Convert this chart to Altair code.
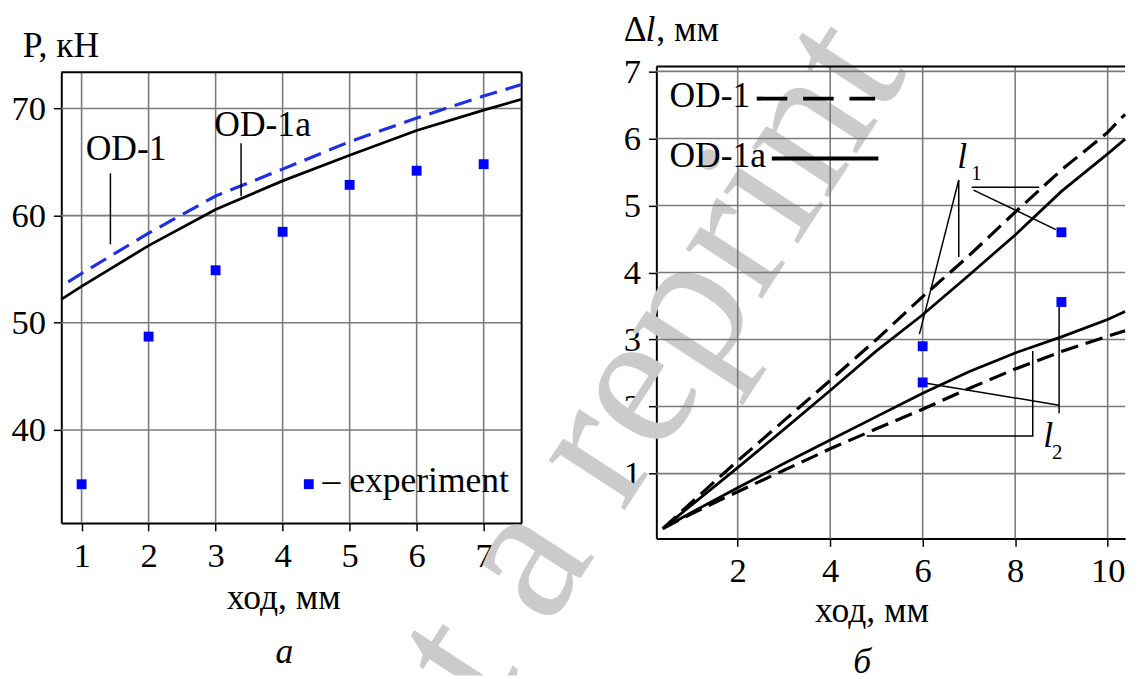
import altair as alt
import pandas as pd

# ---------------- data: panel "а" (P vs stroke) ----------------
a_x_ticks = [1, 2, 3, 4, 5, 6, 7]
a_y_ticks = [40, 50, 60, 70]
a_od1_x = [0.80, 1, 2, 3, 4, 5, 6, 7, 7.567]
a_od1_y = [53.82, 54.6, 58.36, 61.83, 64.34, 66.9, 69.1, 71.16, 72.24]
a_od1a_x = [0.697, 1, 2, 3, 4, 5, 6, 7, 7.567]
a_od1a_y = [52.19, 53.4, 57.2, 60.57, 63.24, 65.63, 67.94, 69.84, 70.86]
a_exp_x = [1, 2, 3, 4, 5, 6, 7]
a_exp_y = [34.93, 48.71, 54.9, 58.49, 62.87, 64.19, 64.8]
a_lead_seg = ["OD-1", "OD-1", "OD-1a", "OD-1a"]
a_lead_x = [1.43, 1.43, 3.38, 3.38]
a_lead_y = [63.95, 57.32, 66.76, 61.8]

# ---------------- data: panel "б" (Δl vs stroke) ----------------
b_x_ticks = [2, 4, 6, 8, 10]
b_y_ticks = [1, 2, 3, 4, 5, 6, 7]
b_x = [0.38, 1, 2, 3, 4, 5, 6, 7, 8, 9, 10, 10.377]
b_l1_od1 = [0.18, 0.57, 1.19, 1.79, 2.39, 3.00, 3.64, 4.25, 4.90, 5.53, 6.09, 6.36]
b_l1_od1a = [0.18, 0.53, 1.09, 1.66, 2.24, 2.83, 3.37, 3.96, 4.56, 5.21, 5.77, 5.99]
b_l2_od1 = [0.18, 0.40, 0.73, 1.05, 1.37, 1.67, 1.96, 2.27, 2.56, 2.82, 3.05, 3.13]
b_l2_od1a = [0.18, 0.42, 0.79, 1.15, 1.50, 1.85, 2.20, 2.52, 2.80, 3.04, 3.30, 3.42]
b_exp_x = [6, 6, 9, 9]
b_exp_y = [2.90, 2.36, 4.60, 3.56]
b_lead_seg = ["a", "a", "b", "b", "c", "c", "d", "d", "e", "e", "f", "f", "g", "g", "g"]
b_lead_x = [6.78, 5.93, 6.78, 6.78, 7.06, 8.52, 7.10, 8.88, 5.98, 8.95, 8.95, 8.95, 4.79, 8.38, 8.38]
b_lead_y = [5.38, 3.08, 5.38, 4.23, 5.27, 5.27, 5.23, 4.64, 2.36, 2.02, 3.49, 1.90, 1.56, 1.56, 2.83]

# ---------------- layout / style ----------------
W, H = 1132, 671
FONT = "Liberation Serif, Times New Roman, Times, DejaVu Serif, serif"
GRID = "#7a7a7a"
BLUE_LINE = "#1f2fe6"
BLUE_PT = "#0000ff"
TXT = 36

A_XD, A_YD = [0.697, 7.567], [31.32, 73.37]
B_XD, B_YD = [0.241, 10.377], [0.033, 7.074]
XA = alt.Scale(domain=A_XD, range=[54, 520.5], nice=False, zero=False)
YA = alt.Scale(domain=A_YD, range=[516.3, 59.7], nice=False, zero=False)
XB = alt.Scale(domain=B_XD, range=[657, 1132], nice=False, zero=False)
YB = alt.Scale(domain=B_YD, range=[532, 53.7], nice=False, zero=False)


def axis(orient, values, offset, **kw):
    return alt.Axis(orient=orient, values=values, offset=offset, grid=False,
                    tickSize=8, tickWidth=1.5, tickColor="black",
                    domainColor="black", domainWidth=2,
                    labelFont=FONT, labelFontSize=35, labelColor="black",
                    labelPadding=8, labelFlush=False, labelOverlap=False,
                    titleFont=FONT, titleFontSize=TXT, titleFontWeight="normal",
                    titleColor="black", titleAngle=0, **kw)


def xy(sx, sy, xa=None, ya=None, xf="x", yf="y"):
    return dict(x=alt.X(f"{xf}:Q", scale=sx, axis=xa),
                y=alt.Y(f"{yf}:Q", scale=sy, axis=ya))


def text(t, x, y, size=TXT, style="normal", align="left", color="black"):
    return alt.Chart(pd.DataFrame({"t": [t]})).mark_text(
        font=FONT, fontSize=size, fontStyle=style, align=align,
        baseline="alphabetic", color=color
    ).encode(x=alt.value(x), y=alt.value(y), text="t:N")


layers = []

# watermark (behind everything)
layers.append(
    alt.Chart(pd.DataFrame({"t": ["Not a reprint"]})).mark_text(
        font=FONT, fontSize=200, color="#cbcbcb", align="left",
        baseline="alphabetic", angle=303, clip=True
    ).encode(x=alt.value(356.6), y=alt.value(916.6), text="t:N")
)

# ---------- panel а ----------
ax_a_x = axis("bottom", a_x_ticks, 516.3 - H, title="ход, мм",
              titleX=279, titleY=87.2, titleAlign="center",
              titleBaseline="alphabetic")
ax_a_y = axis("left", a_y_ticks, -54, title="P, кН", titleX=-39.6,
              titleY=43.7, titleAlign="left", titleBaseline="alphabetic")

gv = pd.DataFrame({"x": a_x_ticks, "y": A_YD[0], "y2": A_YD[1]})
layers.append(alt.Chart(gv).mark_rule(color=GRID, strokeWidth=1.6).encode(
    **xy(XA, YA, xa=ax_a_x), y2="y2:Q"))
gh = pd.DataFrame({"y": a_y_ticks, "x": A_XD[0], "x2": A_XD[1]})
layers.append(alt.Chart(gh).mark_rule(color=GRID, strokeWidth=1.6).encode(
    **xy(XA, YA, ya=ax_a_y), x2="x2:Q"))
# top and right frame
layers.append(alt.Chart(pd.DataFrame({"y": [A_YD[1]], "x": [A_XD[0]], "x2": [A_XD[1]]}))
              .mark_rule(color="black", strokeWidth=2).encode(**xy(XA, YA), x2="x2:Q"))
layers.append(alt.Chart(pd.DataFrame({"x": [A_XD[1]], "y": [A_YD[0]], "y2": [A_YD[1]]}))
              .mark_rule(color="black", strokeWidth=2).encode(**xy(XA, YA), y2="y2:Q"))

layers.append(alt.Chart(pd.DataFrame({"x": a_od1a_x, "y": a_od1a_y}))
              .mark_line(color="black", strokeWidth=2.8).encode(**xy(XA, YA)))
layers.append(alt.Chart(pd.DataFrame({"x": a_od1_x, "y": a_od1_y}))
              .mark_line(color=BLUE_LINE, strokeWidth=3.2, strokeDash=[18, 9]).encode(**xy(XA, YA)))
layers.append(alt.Chart(pd.DataFrame({"x": a_exp_x, "y": a_exp_y}))
              .mark_point(shape="square", filled=True, size=100, color=BLUE_PT, opacity=1)
              .encode(**xy(XA, YA)))
layers.append(alt.Chart(pd.DataFrame({"seg": a_lead_seg, "x": a_lead_x, "y": a_lead_y}))
              .mark_line(color="black", strokeWidth=1.5).encode(**xy(XA, YA), detail="seg:N"))
layers.append(text("OD-1", 78.7, 148.7))
layers.append(text("OD-1a", 209, 123.7))
layers.append(alt.Chart(pd.DataFrame({"t": ["exp"]})).mark_point(
    shape="square", filled=True, size=100, color=BLUE_PT, opacity=1
).encode(x=alt.value(304.8), y=alt.value(477)))
layers.append(text("– experiment", 318.7, 485.3))
layers.append(text("а", 280, 658, style="italic", align="center"))

# ---------- panel б ----------
ax_b_x = axis("bottom", b_x_ticks, 532 - H, title="ход, мм",
              titleX=875, titleY=84.5, titleAlign="center",
              titleBaseline="alphabetic")
ax_b_y = axis("left", b_y_ticks, -657, title=None)

gv = pd.DataFrame({"x": b_x_ticks, "y": B_YD[0], "y2": B_YD[1]})
layers.append(alt.Chart(gv).mark_rule(color=GRID, strokeWidth=1.6).encode(
    **xy(XB, YB, xa=ax_b_x), y2="y2:Q"))
gh = pd.DataFrame({"y": b_y_ticks, "x": B_XD[0], "x2": B_XD[1]})
layers.append(alt.Chart(gh).mark_rule(color=GRID, strokeWidth=1.6).encode(
    **xy(XB, YB, ya=ax_b_y), x2="x2:Q"))
layers.append(alt.Chart(pd.DataFrame({"y": [B_YD[1]], "x": [B_XD[0]], "x2": [B_XD[1]]}))
              .mark_rule(color="black", strokeWidth=2).encode(**xy(XB, YB), x2="x2:Q"))

for ys, dashed in [(b_l1_od1a, False), (b_l1_od1, True), (b_l2_od1a, False), (b_l2_od1, True)]:
    props = dict(color="black", strokeWidth=3.2 if dashed else 2.8)
    if dashed:
        props["strokeDash"] = [18, 8]
    layers.append(alt.Chart(pd.DataFrame({"x": b_x, "y": ys}))
                  .mark_line(**props).encode(**xy(XB, YB)))

layers.append(alt.Chart(pd.DataFrame({"seg": b_lead_seg, "x": b_lead_x, "y": b_lead_y,
                                      "i": list(range(len(b_lead_x)))}))
              .mark_line(color="black", strokeWidth=1.5)
              .encode(**xy(XB, YB), detail="seg:N", order="i:Q"))
layers.append(alt.Chart(pd.DataFrame({"x": b_exp_x, "y": b_exp_y}))
              .mark_point(shape="square", filled=True, size=100, color=BLUE_PT, opacity=1)
              .encode(**xy(XB, YB)))

# legend of panel б
layers.append(text("OD-1", 670.3, 95.3))
layers.append(text("OD-1a", 670.3, 155.3))
layers.append(alt.Chart(pd.DataFrame({"k": ["OD-1"]})).mark_rule(
    color="black", strokeWidth=4, strokeDash=[31, 16]
).encode(x=alt.value(758.7), x2=alt.value(878.7), y=alt.value(86.3)))
layers.append(alt.Chart(pd.DataFrame({"k": ["OD-1a"]})).mark_rule(
    color="black", strokeWidth=4
).encode(x=alt.value(774), x2=alt.value(882), y=alt.value(147)))

# axis title Δl, мм and curve labels
layers.append(text("Δ", 624, 28))
layers.append(text("l", 646, 28, style="italic"))
layers.append(text(", мм", 657, 28))
layers.append(text("l", 962, 157, style="italic"))
layers.append(text("1", 976, 169, size=21))
layers.append(text("l", 1049, 439, style="italic"))
layers.append(text("2", 1058, 452, size=21))
layers.append(text("б", 865.5, 668, style="italic", align="center"))

chart = (
    alt.layer(*layers)
    .resolve_scale(x="independent", y="independent")
    .properties(width=W, height=H, padding=0, background="white")
    .configure_view(stroke=None)
)

chart.save("out.html", embed_options={"renderer": "svg", "actions": False})
